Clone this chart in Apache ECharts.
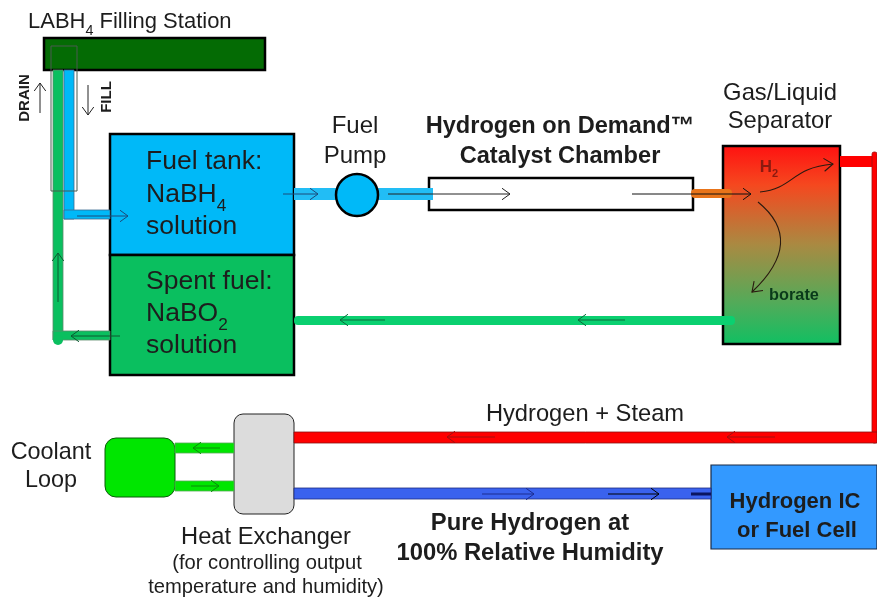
<!DOCTYPE html>
<html>
<head>
<meta charset="utf-8">
<title>Hydrogen on Demand</title>
<script src="https://cdn.jsdelivr.net/npm/echarts@6/dist/echarts.min.js"></script>
<style>
html, body { margin: 0; background: #fff; }
#chart { width: 877px; height: 598px; }
</style>
</head>
<body>
<div id="chart"></div>
<script>
// diagram content
const labelTexts = [
  '{n|LABH}{s|4}{n| Filling Station}', 'DRAIN', 'FILL',
  'Fuel tank:', '{n|NaBH}{s|4}', 'solution',
  'Spent fuel:', '{n|NaBO}{s|2}', 'solution',
  'Fuel', 'Pump', 'Hydrogen on Demand™', 'Catalyst Chamber',
  'Gas/Liquid', 'Separator', '{n|H}{s|2}', 'borate',
  'Hydrogen + Steam', 'Coolant', 'Loop',
  'Heat Exchanger', '(for controlling output', 'temperature and humidity)',
  'Pure Hydrogen at', '100% Relative Humidity', 'Hydrogen IC', 'or Fuel Cell'
];
// x, y of each label in picture units
const labelAt = [
  [28, 22], [25, 98], [107, 97],
  [146, 162], [146, 195], [146, 227],
  [146, 282], [146, 314], [146, 346],
  [355, 126], [355, 156], [560, 126], [560, 156],
  [780, 93], [780, 121], [769, 167], [794, 296],
  [585, 414], [51, 453], [51, 481],
  [266, 537], [267, 563], [266, 587],
  [530, 523], [530, 553], [795, 502], [797, 531]
];
const labelSizes = [22, 15, 15, 26.5, 26.5, 26.5, 26.5, 26.5, 26.5, 24, 24, 23.6, 23.6, 23.8, 23.8, 17, 16.3, 23.7, 23.4, 23.4, 23.7, 20.2, 20.2, 23.8, 23.8, 22, 22];
const labelBold = [1, 2, 11, 12, 15, 16, 23, 24, 25, 26];
const labelLeft = [0, 3, 4, 5, 6, 7, 8];
const labelRotated = [1, 2];

// x0, y0, x1, y1
const boxes = [
  [44, 38, 265, 70], [110, 134, 294, 255], [110, 255, 294, 375],
  [429, 178, 693, 210], [723, 146, 840, 344],
  [105, 438, 175, 497], [234, 414, 294, 514], [711, 465, 877, 549]
];
const boxFills = ['#046b04', '#00b9f8', '#0abf5f', '#ffffff', 'separator', '#00e600', '#dcdcdc', '#3399ff'];
const boxRadius = [0, 0, 0, 0, 0, 11, 9, 0];
const boxStrokes = ['#000', '#000', '#000', '#000', '#000', '#0a5a0a', '#222', '#1a2a44'];
const boxLine = [2.5, 2.5, 2.5, 2.5, 2.5, 1, 1, 1.2];

const pipes = [
  [53, 70, 63, 340], [53, 331, 110, 340], [64, 70, 74, 219], [64, 210, 110, 219],
  [294, 188, 433, 200], [691, 189, 732, 198], [294, 316, 735, 325],
  [840, 156, 877, 167], [872, 152, 877, 443], [294, 432, 877, 443],
  [294, 488, 711, 499], [175, 443, 234, 453], [175, 481, 234, 491]
];
const pipeFills = ['#0abf5f', '#0abf5f', '#00b9f8', '#00b9f8', '#22bdf5', '#e8741a', '#0ad070', '#ff0000', '#ff0000', '#ff0000', '#3a62ee', '#00e600', '#00e600'];
const pipeStrokes = ['#5a8a6a', '#5a8a6a', '#3a6a90', '#3a6a90', 'none', 'none', 'none', 'none', '#a01010', '#8a1010', '#1c2c80', '#55aa55', '#55aa55'];
const pipeRadius = [0, 0, 0, 0, 0, 4, 4, 0, 2, 0, 0, 0, 0];

// cx, cy, radius
const dots = [[58, 340, 5], [357, 195, 21]];
const dotFills = ['#0abf5f', '#00b9f8'];
const dotStrokes = ['none', '#000'];

const sleeve = [[51, 46, 77, 191]];

// x0, y0, x1, y1 of each straight flow arrow
const arrows = [
  [40, 113, 40, 83], [88, 85, 88, 115], [77, 216, 128, 216],
  [283, 194, 318, 194], [388, 194, 510, 194], [632, 194, 751, 194],
  [385, 320, 340, 320], [625, 320, 578, 320], [120, 336, 71, 336], [58, 302, 58, 253],
  [495, 437, 447, 437], [775, 437, 727, 437],
  [482, 494, 534, 494], [608, 494, 659, 494],
  [220, 448, 193, 448], [191, 486, 219, 486]
];
const arrowColors = ['#222', '#222', '#1c4a7a', '#1c4a7a', '#222', '#111', '#0a6a3a', '#0a6a3a', '#0a5a30', '#0a5a30', '#a01010', '#a01010', '#1c2c90', '#000', '#0a8a0a', '#0a8a0a'];
const stub = [[691, 494, 711, 494]];

// x0, y0, cx1, cy1, cx2, cy2, x1, y1 of the curved arrows inside the separator
const curves = [
  [760, 192, 795, 188, 790, 168, 833, 164],
  [758, 202, 790, 228, 788, 258, 752, 292]
];

function box(api, i, r) {
  const a = api.coord([api.value(0), api.value(1)]);
  const b = api.coord([api.value(2), api.value(3)]);
  return { x: a[0], y: a[1], width: b[0] - a[0], height: b[1] - a[1], r: r };
}

function head(p, q, size) {
  const t = Math.atan2(q[1] - p[1], q[0] - p[0]);
  const w = size * 0.72;
  return [
    [q[0] - size * Math.cos(t) + w * Math.sin(t), q[1] - size * Math.sin(t) - w * Math.cos(t)],
    q,
    [q[0] - size * Math.cos(t) - w * Math.sin(t), q[1] - size * Math.sin(t) + w * Math.cos(t)]
  ];
}

const separatorFill = {
  type: 'linear', x: 0, y: 0, x2: 0, y2: 1,
  colorStops: [
    { offset: 0, color: '#ff1010' }, { offset: 0.2, color: '#f5481f' },
    { offset: 0.5, color: '#a98a42' }, { offset: 0.8, color: '#4fac5a' },
    { offset: 1, color: '#0fc062' }
  ]
};

function rectEncode() { return { x: [0, 2], y: [1, 3] }; }

const option = {
  animation: false,
  backgroundColor: '#fff',
  grid: { left: 0, right: 0, top: 0, bottom: 0 },
  xAxis: { type: 'value', min: 0, max: 877, show: false },
  yAxis: { type: 'value', min: 0, max: 598, inverse: true, show: false },
  series: [
    {
      type: 'custom', data: boxes, encode: rectEncode(),
      renderItem: (params, api) => {
        const i = params.dataIndex;
        return {
          type: 'rect', shape: box(api, i, boxRadius[i]),
          style: {
            fill: boxFills[i] === 'separator' ? separatorFill : boxFills[i],
            stroke: boxStrokes[i], lineWidth: boxLine[i]
          }
        };
      }
    },
    {
      type: 'custom', data: pipes, encode: rectEncode(),
      renderItem: (params, api) => {
        const i = params.dataIndex;
        return {
          type: 'rect', shape: box(api, i, pipeRadius[i]),
          style: { fill: pipeFills[i], stroke: pipeStrokes[i], lineWidth: 0.8 }
        };
      }
    },
    {
      type: 'custom', data: dots, encode: { x: 0, y: 1 },
      renderItem: (params, api) => {
        const i = params.dataIndex;
        const c = api.coord([api.value(0), api.value(1)]);
        return {
          type: 'circle', shape: { cx: c[0], cy: c[1], r: api.value(2) },
          style: { fill: dotFills[i], stroke: dotStrokes[i], lineWidth: 2.5 }
        };
      }
    },
    {
      type: 'custom', data: sleeve, encode: rectEncode(),
      renderItem: (params, api) => ({
        type: 'rect', shape: box(api, 0, 0),
        style: { fill: 'none', stroke: '#4a5a50', lineWidth: 1 }
      })
    },
    {
      type: 'custom', data: arrows, encode: rectEncode(),
      renderItem: (params, api) => {
        const i = params.dataIndex;
        const p = api.coord([api.value(0), api.value(1)]);
        const q = api.coord([api.value(2), api.value(3)]);
        const style = { fill: 'none', stroke: arrowColors[i], lineWidth: 1 };
        return {
          type: 'group',
          children: [
            { type: 'line', shape: { x1: p[0], y1: p[1], x2: q[0], y2: q[1] }, style: style },
            { type: 'polyline', shape: { points: head(p, q, 8) }, style: style }
          ]
        };
      }
    },
    {
      type: 'custom', data: stub, encode: rectEncode(),
      renderItem: (params, api) => {
        const p = api.coord([api.value(0), api.value(1)]);
        const q = api.coord([api.value(2), api.value(3)]);
        return {
          type: 'line', shape: { x1: p[0], y1: p[1], x2: q[0], y2: q[1] },
          style: { stroke: '#0a1560', lineWidth: 3 }
        };
      }
    },
    {
      type: 'custom', data: curves, encode: { x: [0, 6], y: [1, 7] },
      renderItem: (params, api) => {
        const p = i => api.coord([api.value(i), api.value(i + 1)]);
        const a = p(0), c1 = p(2), c2 = p(4), b = p(6);
        const style = { fill: 'none', stroke: '#2a1a10', lineWidth: 1.1 };
        return {
          type: 'group',
          children: [
            {
              type: 'bezierCurve',
              shape: { x1: a[0], y1: a[1], cpx1: c1[0], cpy1: c1[1], cpx2: c2[0], cpy2: c2[1], x2: b[0], y2: b[1] },
              style: style
            },
            { type: 'polyline', shape: { points: head(c2, b, 9) }, style: style }
          ]
        };
      }
    },
    {
      type: 'custom', data: labelAt, encode: { x: 0, y: 1 },
      renderItem: (params, api) => {
        const i = params.dataIndex;
        const c = api.coord([api.value(0), api.value(1)]);
        const size = labelSizes[i];
        const bold = labelBold.includes(i) ? 'bold' : 'normal';
        const color = i === 15 ? '#8a1a10' : (i === 16 ? '#0a3a1a' : '#1d1d1d');
        return {
          type: 'text', x: c[0], y: c[1],
          rotation: labelRotated.includes(i) ? Math.PI / 2 : 0,
          style: {
            text: labelTexts[i],
            fontFamily: 'Liberation Sans', fontSize: size, fontWeight: bold, fill: color,
            align: labelLeft.includes(i) ? 'left' : 'center', verticalAlign: 'middle',
            rich: {
              n: { fontFamily: 'Liberation Sans', fontSize: size, fontWeight: bold, fill: color, lineHeight: size * 1.5 },
              s: { fontFamily: 'Liberation Sans', fontSize: size * 0.65, fontWeight: bold, fill: color, lineHeight: size * 1.5, verticalAlign: 'bottom', padding: [size * 0.55, 0, 0, 0] }
            }
          }
        };
      }
    }
  ]
};

const myChart = echarts.init(document.getElementById('chart'));
myChart.setOption(option);
</script>
</body>
</html>
